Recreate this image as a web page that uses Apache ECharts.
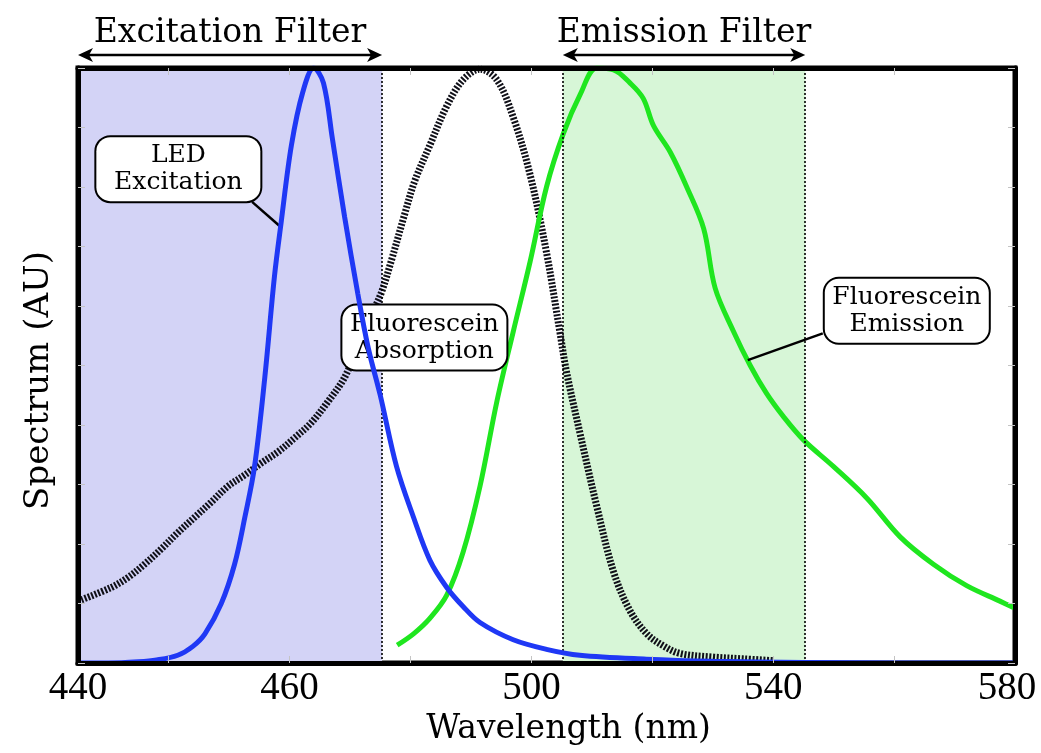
<!DOCTYPE html>
<html>
<head>
<meta charset="utf-8">
<script src="https://cdn.jsdelivr.net/npm/echarts@6/dist/echarts.min.js"></script>
<style>html,body{margin:0;padding:0;background:#fff;}#c{width:1041px;height:753px;}</style>
</head>
<body>
<div id="c"></div>
<script>
// ---- data ----
const ledX = [425, 430, 435, 438, 441.5, 444, 446, 448.7, 450.9, 452.6, 454.2, 455.9, 457.5, 458.6, 460.3, 462.2, 464, 465.6, 467.1, 469.1, 471.3, 473, 475, 477.7, 480.5, 483.2, 486, 488.7, 491.5, 497, 502.5, 508, 519, 530, 545, 560, 580];
const ledY = [0, 0, 0.002, 0.005, 0.013, 0.028, 0.049, 0.10, 0.166, 0.245, 0.33, 0.48, 0.65, 0.74, 0.87, 0.96, 1.0, 0.975, 0.88, 0.75, 0.62, 0.53, 0.45, 0.33, 0.245, 0.173, 0.127, 0.095, 0.068, 0.039, 0.023, 0.013, 0.0065, 0.003, 0.001, 0, 0];

const absX = [425, 430.5, 433.3, 436, 438.8, 441.5, 444.3, 447, 449.8, 452.6, 455.3, 458.1, 460.8, 463.6, 466.4, 469.1, 471.9, 473.5, 475.2, 476.8, 479, 480.7, 483.2, 486, 488.7, 491.5, 494.3, 497, 499.8, 502.5, 504.7, 505.8, 508, 510.8, 513.6, 516.3, 519.1, 521.8, 524.6, 530.1, 535, 540];
const absY = [0.104, 0.127, 0.144, 0.166, 0.192, 0.219, 0.245, 0.27, 0.297, 0.316, 0.336, 0.355, 0.378, 0.404, 0.44, 0.48, 0.545, 0.584, 0.623, 0.675, 0.753, 0.81, 0.87, 0.936, 0.98, 0.998, 0.98, 0.917, 0.82, 0.69, 0.557, 0.49, 0.388, 0.264, 0.153, 0.088, 0.049, 0.029, 0.016, 0.01, 0.007, 0.004];

const emX = [477.8, 480.5, 483.2, 486, 488.7, 491.5, 494.3, 497, 499.8, 502.5, 505.3, 508.1, 510.8, 513.6, 516.3, 518.5, 520.2, 523, 525.7, 528.5, 530.4, 533.4, 536.2, 538.9, 541.7, 545, 550, 555.5, 561, 566.5, 572, 577.5, 580];
const emY = [0.03, 0.049, 0.075, 0.114, 0.186, 0.297, 0.44, 0.557, 0.675, 0.8, 0.89, 0.956, 1.0, 0.997, 0.975, 0.949, 0.903, 0.858, 0.8, 0.73, 0.63, 0.558, 0.5, 0.453, 0.414, 0.375, 0.33, 0.277, 0.212, 0.166, 0.13, 0.104, 0.092];

const excitationFilter = [425, 475.3];
const emissionFilter = [505.2, 545.3];
const filterNames = ['Excitation Filter', 'Emission Filter'];

const xLabelValues = [425, 460, 500, 540, 580];
const xTickLabels = ['440', '460', '500', '540', '580'];
const xMinorTicks = [440, 460, 480, 500, 520, 540, 560];

const callouts = [
  { text: 'LED\nExcitation', at: [441.6, 0.83] },
  { text: 'Fluorescein\nAbsorption', at: [482.3, 0.547] },
  { text: 'Fluorescein\nEmission', at: [562.1, 0.592] }
];
const leaders = [
  [[453.8, 0.775], [458.4, 0.734]],
  [[535.8, 0.509], [548.2, 0.554]]
];

// ---- chart ----
const pair = (xs, ys) => xs.map((x, i) => [x, ys[i]]);
const FONT = 'DejaVu Serif';
const frame = { show: true, onZero: false, lineStyle: { color: '#000', width: 5 } };
const faintTick = { show: true, inside: true, length: 7, lineStyle: { color: '#c4c4c4', width: 1 } };

const chart = echarts.init(document.getElementById('c'), null, { renderer: 'canvas' });
chart.setOption({
  animation: false,
  backgroundColor: '#fff',
  grid: { left: 78, right: 26, top: 68, bottom: 90, containLabel: false, outerBoundsMode: 'none',
          show: true, backgroundColor: '#fff', borderColor: '#000', borderWidth: 5 },
  xAxis: [
    {
      type: 'value', min: 425, max: 580, position: 'bottom', z: 10,
      axisLine: frame, splitLine: { show: false },
      axisTick: Object.assign({ customValues: xMinorTicks }, faintTick),
      axisLabel: {
        customValues: xLabelValues,
        formatter: v => {
          const i = xLabelValues.indexOf(v);
          return i === xLabelValues.length - 1 ? '{last|' + xTickLabels[i] + '}' : xTickLabels[i];
        },
        rich: { last: { fontFamily: 'Liberation Serif', fontSize: 39, color: '#000', padding: [0, 16, 0, 0] } },
        fontFamily: 'Liberation Serif', fontSize: 39, color: '#000', margin: 6
      },
      name: 'Wavelength (nm)', nameLocation: 'middle', nameGap: 48,
      nameTextStyle: { fontFamily: FONT, fontSize: 33, color: '#000', padding: [0, 0, 0, 44] }
    },
    {
      type: 'value', min: 425, max: 580, position: 'top', z: 10,
      axisLine: frame, splitLine: { show: false },
      axisTick: Object.assign({ customValues: xMinorTicks }, faintTick),
      axisLabel: { show: false }
    }
  ],
  yAxis: [
    {
      type: 'value', min: 0, max: 1, interval: 0.1, position: 'left', z: 10,
      axisLine: frame, splitLine: { show: false }, axisTick: faintTick,
      axisLabel: { show: false },
      name: 'Spectrum (AU)', nameLocation: 'middle', nameGap: 22, nameRotate: 90,
      nameTextStyle: { fontFamily: FONT, fontSize: 34, color: '#000', padding: [0, 30, 0, 0] }
    },
    {
      type: 'value', min: 0, max: 1, interval: 0.1, position: 'right', z: 10,
      axisLine: frame, splitLine: { show: false }, axisTick: faintTick,
      axisLabel: { show: false }
    }
  ],
  series: [
    {
      name: 'filters', type: 'line', data: [], z: 1, silent: true,
      markArea: {
        silent: true,
        data: [
          [{ xAxis: excitationFilter[0], itemStyle: { color: '#d3d3f6' } }, { xAxis: excitationFilter[1] }],
          [{ xAxis: emissionFilter[0], itemStyle: { color: '#d7f6d7' } }, { xAxis: emissionFilter[1] }]
        ]
      },
      markLine: {
        silent: true, symbol: 'none', label: { show: false },
        lineStyle: { color: '#000', type: [2, 2], width: 1.6 },
        data: [{ xAxis: excitationFilter[1] }, { xAxis: emissionFilter[0] }, { xAxis: emissionFilter[1] }]
      }
    },
    {
      name: 'Fluorescein Absorption', type: 'line', data: pair(absX, absY), z: 3,
      showSymbol: false, smooth: 0.35, silent: true,
      lineStyle: { color: '#101018', width: 7, type: [2, 1.6] }
    },
    {
      name: 'Fluorescein Emission', type: 'line', data: pair(emX, emY), z: 4,
      showSymbol: false, smooth: 0.35, silent: true,
      lineStyle: { color: '#1fe61f', width: 5 }
    },
    {
      name: 'LED Excitation', type: 'line', data: pair(ledX, ledY), z: 5,
      showSymbol: false, smooth: 0.35, silent: true,
      lineStyle: { color: '#1f38f5', width: 5 }
    },
    {
      name: 'annotations', type: 'line', data: [], z: 8, silent: true,
      markLine: {
        silent: true, symbol: 'none',
        label: { show: false },
        lineStyle: { color: '#000', type: 'solid', width: 2.5 },
        data: leaders.map(l => [{ coord: l[0] }, { coord: l[1] }])
      },
      markPoint: {
        silent: true, symbol: 'circle', symbolSize: 1,
        itemStyle: { color: 'rgba(0,0,0,0)' },
        label: {
          show: true, position: 'inside', fontFamily: FONT, fontSize: 25, lineHeight: 27,
          color: '#000', backgroundColor: '#fff', borderColor: '#000', borderWidth: 2,
          borderRadius: 14, padding: [5, 7], width: 150, align: 'center'
        },
        data: callouts.map(c => ({ coord: c.at, label: { formatter: c.text } }))
      }
    }
  ]
});

// Filter-range arrows above the plot, positioned through the chart's own x scale
const graphics = [];
[excitationFilter, emissionFilter].forEach((f, i) => {
  const a = chart.convertToPixel({ gridIndex: 0 }, [f[0], 1]);
  const b = chart.convertToPixel({ gridIndex: 0 }, [f[1], 1]);
  const x1 = a[0], x2 = b[0], y = a[1] - 13;
  graphics.push(
    { type: 'line', z: 20, shape: { x1: x1 + 6, y1: y, x2: x2 - 6, y2: y }, style: { stroke: '#000', lineWidth: 2.5 } },
    { type: 'polygon', z: 20, shape: { points: [[x1, y], [x1 + 15, y - 7], [x1 + 11, y], [x1 + 15, y + 7]] }, style: { fill: '#000' } },
    { type: 'polygon', z: 20, shape: { points: [[x2, y], [x2 - 15, y - 7], [x2 - 11, y], [x2 - 15, y + 7]] }, style: { fill: '#000' } },
    { type: 'text', z: 20, style: { text: filterNames[i], x: (x1 + x2) / 2, y: y - 22, align: 'center', verticalAlign: 'middle', font: '33px "DejaVu Serif"', fill: '#000' } }
  );
});
chart.setOption({ graphic: graphics });
</script>
</body>
</html>
